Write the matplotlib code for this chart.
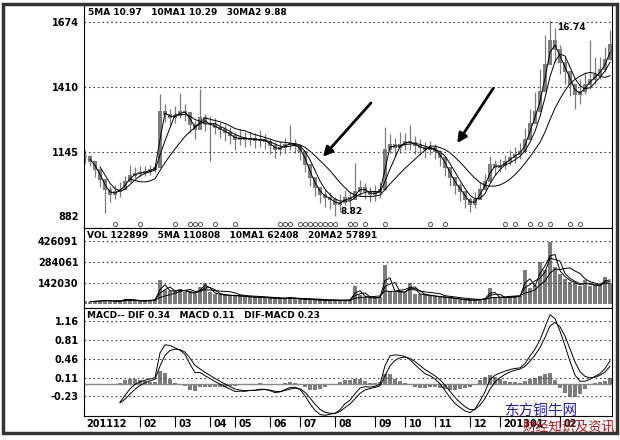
import numpy as np
import pandas as pd
import matplotlib
matplotlib.use("Agg")
import matplotlib.pyplot as plt
from matplotlib.patches import Rectangle
import matplotlib.transforms as mtransforms

# daily-ish bars (price in 0.01 yuan)
closes = [1125, 1104, 1072, 1031, 990, 970, 982, 990, 1023, 1047,
          1055, 1059, 1063, 1072, 1080, 1308, 1296, 1283, 1292, 1308,
          1304, 1255, 1234, 1283, 1259, 1255, 1243, 1234, 1222, 1210,
          1194, 1202, 1194, 1198, 1190, 1194, 1186, 1169, 1153, 1161,
          1174, 1178, 1169, 1145, 1092, 1039, 998, 970, 958, 949,
          929, 937, 958, 949, 982, 998, 982, 970, 978, 990,
          1153, 1174, 1161, 1174, 1186, 1182, 1169, 1161, 1153, 1161,
          1145, 1120, 1080, 1039, 1006, 982, 949, 929, 949, 990,
          1023, 1092, 1080, 1088, 1104, 1120, 1133, 1145, 1194, 1260,
          1310, 1390, 1500, 1600, 1560, 1510, 1470, 1418, 1377, 1389,
          1418, 1438, 1458, 1479, 1519, 1580]
highs = [1150, 1130, 1100, 1065, 1030, 1005, 1010, 1020, 1045, 1090,
         1080, 1085, 1085, 1090, 1100, 1380, 1340, 1320, 1330, 1385,
         1340, 1300, 1270, 1400, 1300, 1290, 1280, 1265, 1255, 1245,
         1225, 1235, 1225, 1230, 1220, 1234, 1215, 1200, 1185, 1190,
         1200, 1255, 1195, 1175, 1130, 1080, 1040, 1000, 990, 980,
         960, 970, 990, 980, 1100, 1030, 1015, 1000, 1010, 1020,
         1245, 1215, 1200, 1225, 1220, 1255, 1210, 1195, 1185, 1190,
         1175, 1150, 1115, 1075, 1040, 1015, 985, 960, 980, 1020,
         1055, 1125, 1110, 1115, 1130, 1150, 1165, 1180, 1240, 1320,
         1390, 1480, 1620, 1674, 1650, 1580, 1530, 1470, 1420, 1440,
         1470, 1600, 1530, 1530, 1570, 1640]
lows = [1100, 1085, 1040, 1000, 895, 940, 950, 960, 995, 1020,
        1035, 1040, 1045, 1050, 1060, 1080, 1265, 1255, 1260, 1280,
        1270, 1220, 1195, 1250, 1230, 1105, 1215, 1200, 1190, 1175,
        1150, 1170, 1165, 1170, 1160, 1165, 1155, 1135, 1120, 1130,
        1140, 1150, 1140, 1110, 1060, 1005, 965, 935, 920, 910,
        882, 900, 925, 915, 950, 965, 950, 940, 945, 955,
        990, 1140, 1125, 1140, 1150, 1150, 1135, 1130, 1120, 1130,
        1115, 1085, 1045, 1005, 970, 945, 915, 900, 915, 955,
        990, 1050, 1050, 1060, 1075, 1090, 1100, 1115, 1150, 1220,
        1270, 1340, 1420, 1540, 1510, 1460, 1420, 1370, 1320, 1340,
        1380, 1400, 1420, 1440, 1470, 1520]
volumes = [18000, 16000, 20000, 22000, 25000, 20000, 18000, 22000, 35000, 28000,
           22000, 20000, 22000, 25000, 30000, 165000, 95000, 85000, 90000, 100000,
           80000, 75000, 70000, 115000, 140000, 80000, 70000, 60000, 62000, 55000,
           58000, 52000, 50000, 48000, 45000, 47000, 42000, 40000, 38000, 36000,
           37000, 45000, 35000, 33000, 32000, 30000, 28000, 26000, 25000, 24000,
           26000, 24000, 25000, 28000, 120000, 60000, 45000, 40000, 42000, 50000,
           265000, 90000, 80000, 85000, 75000, 140000, 70000, 65000, 60000, 55000,
           50000, 48000, 45000, 40000, 35000, 30000, 28000, 25000, 28000, 32000,
           38000, 110000, 45000, 42000, 45000, 48000, 50000, 55000, 230000, 110000,
           130000, 285000, 230000, 420000, 250000, 200000, 170000, 150000, 140000, 120000,
           160000, 120000, 125000, 130000, 185000, 140000]
signal_idx = [6, 11, 18, 21, 22, 23, 26, 30, 39, 40, 41, 43, 44, 45, 46, 47,
              48, 49, 50, 53, 54, 56, 60, 69, 72, 84, 86, 89, 91, 93, 97, 99]
month_idx = [11, 18, 25, 30, 37, 43, 50, 58, 64, 70, 77, 83, 95]
month_lab = ["02", "03", "04", "05", "06", "07", "08", "09", "10", "11", "12", "201301", "02"]
price_ticks = [1674, 1410, 1145, 882]
vol_ticks = [426091, 284061, 142030]
macd_ticks = [1.16, 0.81, 0.46, 0.11, -0.23]

closes = np.array(closes, float)
highs = np.array(highs, float)
lows = np.array(lows, float)
volumes = np.array(volumes, float)
opens = np.r_[closes[0], closes[:-1]]
x = np.arange(len(closes))

cs = pd.Series(closes)
ma_lines = [cs.rolling(2).mean(), cs.rolling(4).mean(), cs.rolling(10).mean()]
vs = pd.Series(volumes)
vma_lines = [vs.rolling(2).mean(), vs.rolling(3).mean(), vs.rolling(7).mean()]
p = cs / 100
dif = p.ewm(span=4, adjust=False).mean() - p.ewm(span=9, adjust=False).mean()
dea = dif.ewm(span=3, adjust=False).mean()
dif[:7] = np.nan
dea[:7] = np.nan
hist = (dif - dea)

W, H = 620, 440
fig = plt.figure(figsize=(6.2, 4.4), dpi=100)
plt.rcParams['font.family'] = ['DejaVu Sans']

def box(top, bottom, left=84, right=612):
    return [left / W, 1 - bottom / H, (right - left) / W, (bottom - top) / H]

ax1 = fig.add_axes(box(5, 228))
ax2 = fig.add_axes(box(228, 308), sharex=ax1)
ax3 = fig.add_axes(box(308, 416), sharex=ax1)

tick_font = dict(fontsize=7, fontweight='bold')
gray = '#7c7c7c'

# price panel
ax1.vlines(x, lows, highs, color=gray, lw=0.9)
ax1.bar(x, np.abs(closes - opens) + 4, bottom=np.minimum(closes, opens) - 2,
        width=0.7, color=gray, edgecolor='none')
for m in ma_lines:
    ax1.plot(x, m, color='black', lw=0.7)
ax1.set_ylim(833, 1743)
ax1.set_yticks(price_ticks)
ax1.set_yticklabels([str(t) for t in price_ticks], **tick_font)
for t in price_ticks[:-1]:
    ax1.axhline(t, color='#444', lw=0.8, ls=(0, (1.5, 2.5)))
trans1 = mtransforms.blended_transform_factory(ax1.transData, ax1.transAxes)
ax1.plot(signal_idx, [0.02] * len(signal_idx), 'o', ms=3, mfc='white',
         mec='#555', mew=0.7, transform=trans1, clip_on=False)
hi = int(np.argmax(highs))
lo = int(np.argmin(lows))
ax1.annotate(f"{highs[hi] / 100:.2f}", xy=(hi, highs[hi]), xytext=(5, -4),
             textcoords='offset points', fontsize=6.5, fontweight='bold',
             va='center', arrowprops=dict(arrowstyle='-', lw=0.6, color='black'))
ax1.annotate(f"{lows[lo] / 100:.2f}", xy=(lo, lows[lo]), xytext=(4, 3),
             textcoords='offset points', fontsize=6.5, fontweight='bold', va='center')
ax1.annotate('', xy=(0.449, 0.31), xytext=(0.547, 0.57), xycoords='axes fraction',
             arrowprops=dict(arrowstyle='-|>', lw=2, color='black', mutation_scale=14))
ax1.annotate('', xy=(0.704, 0.37), xytext=(0.778, 0.637), xycoords='axes fraction',
             arrowprops=dict(arrowstyle='-|>', lw=2, color='black', mutation_scale=14))
ax1.text(0.008, 0.985, "5MA 10.97   10MA1 10.29   30MA2 9.88", transform=ax1.transAxes,
         va='top', ha='left', fontsize=6.5, fontweight='bold')

# volume panel
ax2.bar(x, volumes, width=0.8, color=gray, edgecolor='none')
for m in vma_lines:
    ax2.plot(x, m, color='black', lw=0.7)
ax2.set_ylim(-27000, 514000)
ax2.set_yticks(vol_ticks)
ax2.set_yticklabels([str(t) for t in vol_ticks], **tick_font)
for t in vol_ticks:
    ax2.axhline(t, color='#444', lw=0.8, ls=(0, (1.5, 2.5)))
ax2.text(0.006, 0.96, "VOL 122899   5MA 110808   10MA1 62408   20MA2 57891",
         transform=ax2.transAxes, va='top', ha='left', fontsize=6.5, fontweight='bold')

# macd panel
ax3.axhline(0, color='#888', lw=1.0)
ax3.bar(x, hist, width=0.8, color=gray, edgecolor='none')
ax3.plot(x, dif, color='black', lw=0.7)
ax3.plot(x, dea, color='black', lw=0.7)
ax3.set_ylim(-0.59, 1.40)
ax3.set_yticks(macd_ticks)
ax3.set_yticklabels([f"{t:.2f}" for t in macd_ticks], **tick_font)
for t in macd_ticks:
    ax3.axhline(t, color='#444', lw=0.8, ls=(0, (1.5, 2.5)))
ax3.text(0.006, 0.97, "MACD-- DIF 0.34   MACD 0.11   DIF-MACD 0.23",
         transform=ax3.transAxes, va='top', ha='left', fontsize=6.5, fontweight='bold')

ax3.set_xlim(-0.2, 105.4)
for ax in (ax1, ax2, ax3):
    ax.tick_params(axis='y', length=0, pad=4)
    ax.tick_params(axis='x', length=0, labelbottom=False)
    for s in ax.spines.values():
        s.set_linewidth(0.8)
ax3.set_xticks(month_idx)
ax3.tick_params(axis='x', direction='out', length=8, width=0.8)
trans3 = mtransforms.blended_transform_factory(ax3.transData, ax3.transAxes)
ax3.text(0.3, -0.03, "201112", transform=trans3, ha='left', va='top', **tick_font)
for i, lab in zip(month_idx, month_lab):
    ax3.text(i + 0.7, -0.03, lab, transform=trans3, ha='left', va='top', **tick_font)

# outer frame and watermark
fig.patches.append(Rectangle((3 / W, 1 - 433 / H), 614 / W, 429 / H, transform=fig.transFigure,
                             fill=False, lw=2.5, ec='#333'))
fig.text(505 / W, 1 - 411 / H, "东方铜牛网", color='#2020a0', fontsize=10.5,
         family=['Noto Sans CJK SC', 'DejaVu Sans'], va='center', ha='left')
fig.text(523 / W, 1 - 428 / H, "财经知识及资讯", color='#a81818', fontsize=9.5,
         family=['Noto Sans CJK SC', 'DejaVu Sans'], va='center', ha='left')

fig.savefig("out.png", dpi=100)
